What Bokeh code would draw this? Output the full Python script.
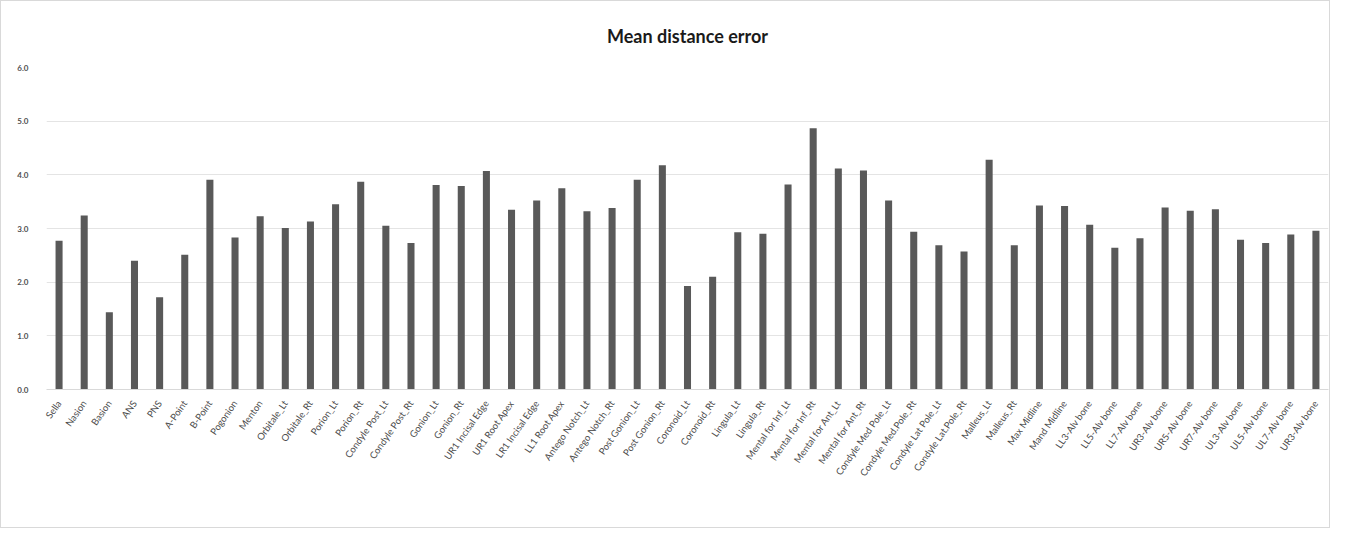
import math
from bokeh.plotting import figure
from bokeh.models import FixedTicker, NumeralTickFormatter, ColumnDataSource
from bokeh.embed import file_html
from bokeh.resources import INLINE

title_text = "Mean distance error"

landmarks = [
    "Sella", "Nasion", "Basion", "ANS", "PNS", "A-Point", "B-Point", "Pogonion",
    "Menton", "Orbitale_Lt", "Orbitale_Rt", "Porion_Lt", "Porion_Rt",
    "Condyle Post_Lt", "Condyle Post_Rt", "Gonion_Lt", "Gonion_Rt",
    "UR1 Incisal Edge", "UR1 Root Apex", "LR1 Incisal Edge", "LL1 Root Apex",
    "Antego Notch_Lt", "Antego Notch_Rt", "Post Gonion_Lt", "Post Gonion_Rt",
    "Coronoid_Lt", "Coronoid_Rt", "Lingula_Lt", "Lingula_Rt",
    "Mental for Inf_Lt", "Mental for Inf_Rt", "Mental for Ant_Lt", "Mental for Ant_Rt",
    "Condyle Med Pole_Lt", "Condyle Med.Pole_Rt", "Condyle Lat Pole_Lt", "Condyle Lat.Pole_Rt",
    "Malleus_Lt", "Malleus_Rt", "Max Midline", "Mand Midline",
    "LL3-Alv bone", "LL5-Alv bone", "LL7-Alv bone", "UR3-Alv bone", "UR5-Alv bone",
    "UR7-Alv bone", "UL3-Alv bone", "UL5-Alv bone", "UL7-Alv bone", "UR3-Alv bone",
]

mean_error = [
    2.77, 3.24, 1.44, 2.40, 1.72, 2.51, 3.91, 2.83,
    3.23, 3.01, 3.13, 3.45, 3.87,
    3.05, 2.73, 3.81, 3.79,
    4.07, 3.35, 3.52, 3.75,
    3.32, 3.38, 3.91, 4.18,
    1.93, 2.10, 2.93, 2.90,
    3.82, 4.87, 4.12, 4.08,
    3.52, 2.94, 2.69, 2.57,
    4.28, 2.69, 3.43, 3.42,
    3.07, 2.64, 2.82, 3.39, 3.33,
    3.36, 2.79, 2.73, 2.89, 2.96,
]

y_ticks = [0, 1, 2, 3, 4, 5, 6]

positions = list(range(len(landmarks)))
source = ColumnDataSource(dict(x=positions, top=mean_error))

p = figure(
    width=1330, height=528,
    x_range=(-0.5, len(landmarks) - 0.5), y_range=(0, 6),
    output_backend="svg", toolbar_location=None,
    title=title_text,
    min_border_left=45, min_border_right=3, min_border_bottom=140,
    min_border_top=66,
)
p.styles = {"border": "1px solid #d9d9d9"}

p.title.align = "center"
p.title.text_font = "Lato"
p.title.text_font_size = "18px"
p.title.text_font_style = "bold"
p.title.text_color = "#1a1a1a"
p.title.offset = 0
p.title.standoff = 42

p.vbar(x="x", top="top", width=0.28, bottom=0, source=source,
       fill_color="#595959", line_color=None)

p.outline_line_color = None
p.background_fill_color = "white"
p.xgrid.grid_line_color = None
p.ygrid.grid_line_color = "#e4e4e4"
p.ygrid.ticker = FixedTicker(ticks=y_ticks)

p.yaxis.ticker = FixedTicker(ticks=y_ticks)
p.yaxis.formatter = NumeralTickFormatter(format="0.0")
p.yaxis.axis_line_color = None
p.yaxis.major_tick_line_color = None
p.yaxis.minor_tick_line_color = None
p.yaxis.major_label_text_font = "Lato"
p.yaxis.major_label_text_font_size = "8px"
p.yaxis.major_label_text_font_style = "bold"
p.yaxis.major_label_text_color = "#505050"
p.yaxis.major_label_standoff = 12

p.xaxis.ticker = FixedTicker(ticks=positions)
p.xaxis.major_label_overrides = {i: name for i, name in enumerate(landmarks)}
p.xaxis.major_label_orientation = math.radians(55)
p.xaxis.axis_line_color = "#d9d9d9"
p.xaxis.major_tick_line_color = None
p.xaxis.minor_tick_line_color = None
p.xaxis.major_label_text_font = "Lato"
p.xaxis.major_label_text_font_size = "9.5px"
p.xaxis.major_label_text_color = "#4a4a4a"
p.xaxis.major_label_standoff = 6

open("out.html", "w").write(file_html(p, INLINE))
